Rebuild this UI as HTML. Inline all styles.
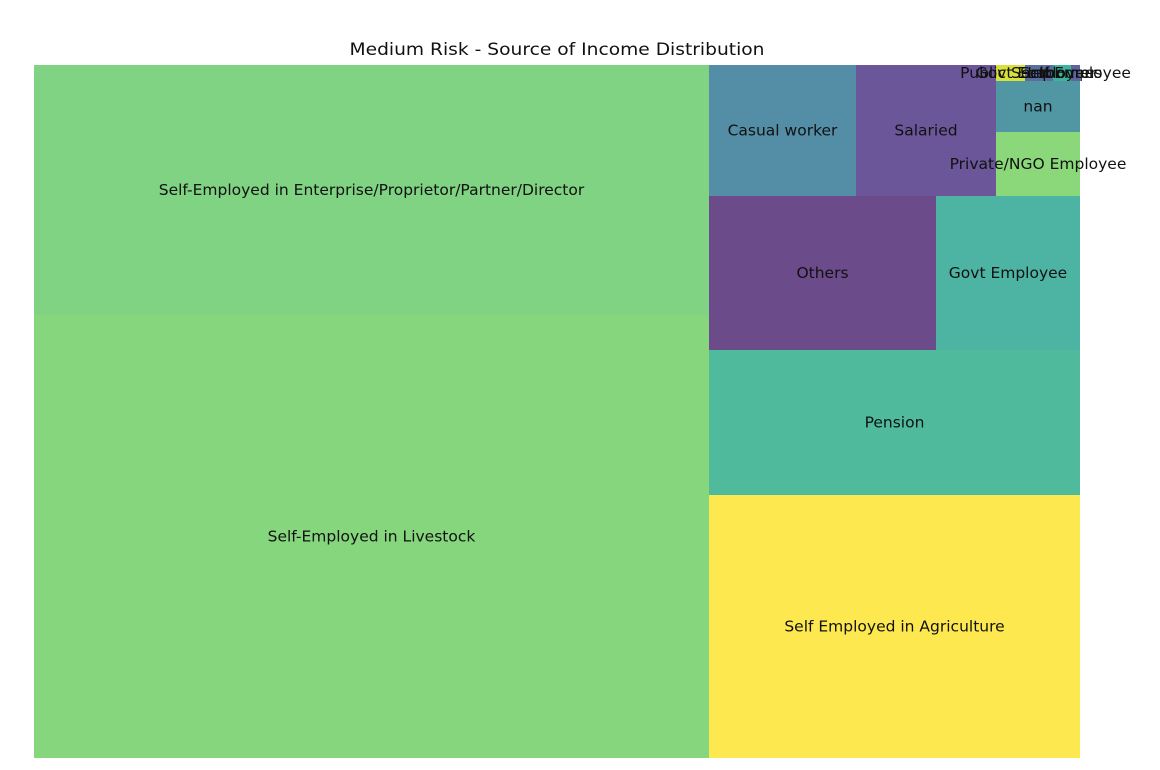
<!DOCTYPE html>
<html><head><meta charset="utf-8"><style>
body{margin:0;background:#fff;width:1160px;height:766px;overflow:hidden;font-family:"DejaVu Sans","Liberation Sans",sans-serif}
svg text{font-family:"DejaVu Sans","Liberation Sans",sans-serif}
</style></head><body>
<svg id="chart" width="1160" height="766" xmlns="http://www.w3.org/2000/svg">
<text x="557" y="55" font-size="17" textLength="415" lengthAdjust="spacingAndGlyphs" text-anchor="middle" fill="#111">Medium Risk - Source of Income Distribution</text>
<g id="cells"></g>
</svg>
<script>
const categories = ["Self-Employed in Livestock","Self-Employed in Enterprise/Proprietor/Partner/Director","Self Employed in Agriculture","Pension","Others","Govt Employee","Casual worker","Salaried","Private/NGO Employee","nan","Public Sector","Govt Employees","Labourer","Self Employee"];
const values = [299025,168750,97573,53795,34958,22176,19257,18340,5376,4284,464,448,288,144];
const colors = ["#86d67e","#7fd382","#fde84f","#4fbb9c","#6b4b8a","#4db3a3","#538ea6","#6a5699","#8bd87a","#5096a3","#d9e03b","#5a6ea0","#3eb39a","#5d64a0"];
const X0=34, Y0=65, W=1046, H=693, N=100;
function layoutrow(s,x,y,dx,dy){const c=s.reduce((a,b)=>a+b,0),w=c/dy;const r=[];for(const v of s){r.push({x:x,y:y,dx:w,dy:v/w});y+=v/w;}return r;}
function layoutcol(s,x,y,dx,dy){const c=s.reduce((a,b)=>a+b,0),h=c/dx;const r=[];for(const v of s){r.push({x:x,y:y,dx:v/h,dy:h});x+=v/h;}return r;}
function layout(s,x,y,dx,dy){return dx>=dy?layoutrow(s,x,y,dx,dy):layoutcol(s,x,y,dx,dy);}
function leftover(s,x,y,dx,dy){const c=s.reduce((a,b)=>a+b,0);if(dx>=dy){const w=c/dy;return [x+w,y,dx-w,dy];}const h=c/dx;return [x,y+h,dx,dy-h];}
function worst(s,x,y,dx,dy){return Math.max(...layout(s,x,y,dx,dy).map(r=>Math.max(r.dx/r.dy,r.dy/r.dx)));}
function squarify(s,x,y,dx,dy){if(!s.length)return[];if(s.length===1)return layout(s,x,y,dx,dy);let i=1;while(i<s.length&&worst(s.slice(0,i),x,y,dx,dy)>=worst(s.slice(0,i+1),x,y,dx,dy))i++;const cur=s.slice(0,i),rem=s.slice(i);const [a,b,c,d]=leftover(cur,x,y,dx,dy);return layout(cur,x,y,dx,dy).concat(squarify(rem,a,b,c,d));}
const total=values.reduce((a,b)=>a+b,0);
const norm=values.map(v=>v*N*N/total);
const rects=squarify(norm,0,0,N,N);
const sx=W/N, sy=H/N;
const g=document.getElementById('cells');
const NS="http://www.w3.org/2000/svg";
rects.forEach((r,i)=>{
  const rect=document.createElementNS(NS,'rect');
  
  
  rect.setAttribute('x',X0+r.x*sx);rect.setAttribute('y',Y0+H-(r.y+r.dy)*sy);
  rect.setAttribute('width',r.dx*sx);rect.setAttribute('height',r.dy*sy);
  rect.setAttribute('fill',colors[i]);
  g.appendChild(rect);
});
rects.forEach((r,i)=>{
  const t=document.createElementNS(NS,'text');
  
  
  t.setAttribute('x',X0+(r.x+r.dx/2)*sx);t.setAttribute('y',Y0+H-(r.y+r.dy/2)*sy+5);
  t.setAttribute('text-anchor','middle');t.setAttribute('font-size','15.5');t.setAttribute('fill','#111');
  t.textContent=categories[i];
  g.appendChild(t);
});
</script>
</body></html>
